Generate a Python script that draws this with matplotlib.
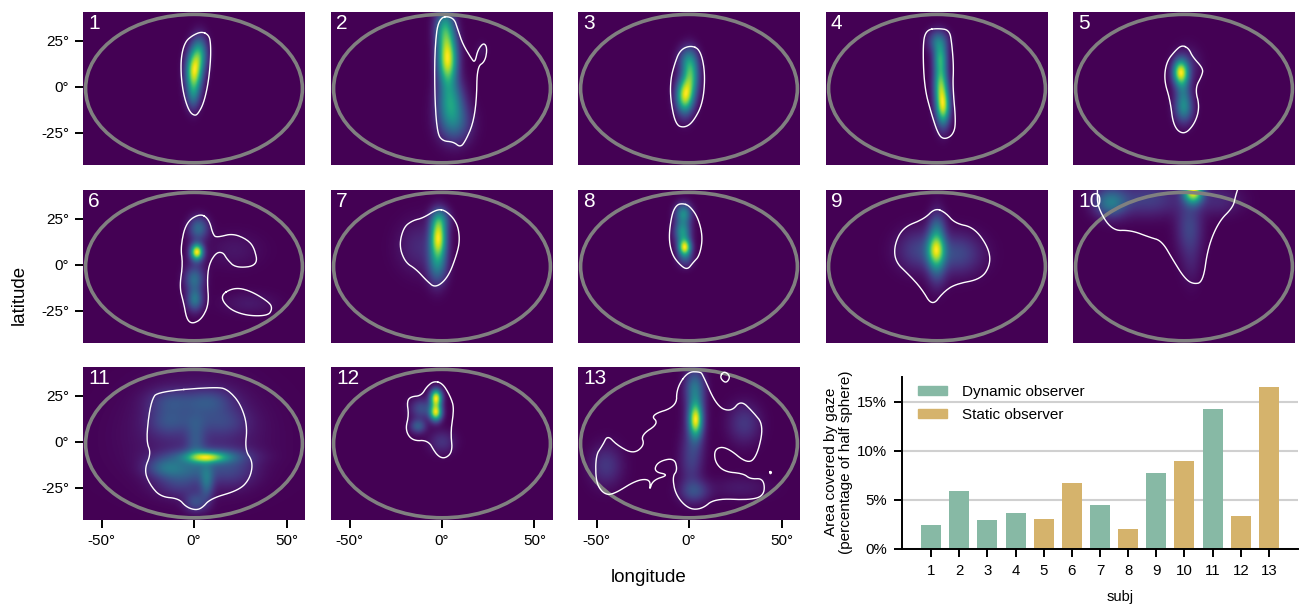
# Gaze density maps per subject plus area-covered bar chart
import numpy as np
import matplotlib
matplotlib.use('Agg')
import matplotlib.pyplot as plt
from matplotlib.patches import Ellipse, Patch

plt.rcParams['font.family'] = ['Liberation Sans', 'DejaVu Sans']

# ============================================================
# Data
# ============================================================

# density blobs per subject: (lon, lat, sigma lon, sigma lat, height)
blobs_1 = [(0, 8, 3, 7.5, 1), (3, 18, 3, 6.5, .55), (-.5, -5, 2.6, 5.5, .3)]
blobs_2 = [(3, 15, 3.6, 9.5, 1), (4.5, -8, 4.8, 8.5, .5), (7, -20, 6, 7.5, .3), (1.5, 32, 3.6, 7.5, .5),
           (21.6, 20, 2.2, 3.2, .05)]
blobs_3 = [(-2.3, -5, 3.2, 6.5, 1), (1, 6, 3, 7.5, .7), (-1, 15, 3.6, 5, .3)]
blobs_4 = [(3.3, -11, 2.6, 7, 1), (2, 2, 2.6, 7.5, .8), (1.8, 16, 2.6, 5.5, .6), (.5, 25, 3.6, 4.2, .4)]
blobs_5 = [(-1.8, 8, 2.9, 4.8, 1), (0, -12, 3.4, 5.4, .45), (-.5, -2, 3, 6.5, .3), (2, 12, 4.8, 6.5, .12)]
blobs_6 = [(1.6, 7, 2.3, 3, 1), (2.5, 20, 3.6, 4.3, .35), (0, -8, 3.6, 4.3, .3), (.5, -19, 3, 4.3, .4),
           (1, 0, 3.6, 10.5, .1), (22, 8, 10, 6.5, .06), (30, -21, 10, 4.3, .07)]
blobs_7 = [(-2, 15, 3, 7.5, 1), (-2.5, 0, 3.6, 7.5, .4), (-1, 25, 3.6, 4.3, .3), (-12, 10, 8, 9.5, .13)]
blobs_8 = [(-2.3, 9.5, 2.4, 3.2, 1), (-3.5, 18, 3, 4.3, .55), (-3, 28, 3, 3.8, .5), (-2, 3, 3, 3.2, .2)]
blobs_9 = [(-.5, 8, 3.4, 6.5, 1), (0, 14, 3, 10.5, .35), (-10, 8, 8, 7.5, .3), (11, 6, 9, 7.5, .35),
           (0, -5, 3.6, 6.5, .2), (0, 22, 3.6, 4.3, .15)]
blobs_10 = [(5, 40, 3.6, 4.3, 1), (-40, 34, 6, 5.4, .4), (-20, 36, 13, 6.5, .2), (3, 20, 4.8, 10.5, .22),
            (4, 0, 3.6, 8.5, .06), (18, 35, 9, 5.4, .12)]
blobs_11 = [(7, -8.5, 7, 2, 1), (7, -8, 14, 3, .5), (-15, -14, 7.5, 3.8, .5), (7, -22, 2.6, 6.5, .5),
            (1, -33, 4.2, 3.8, .4), (1, 0, 3.6, 8.5, .3), (-15, 11, 7, 5.4, .25), (18, 11, 8, 5.4, .2),
            (-14, 22, 8, 4.8, .25), (10, 22, 8, 4.8, .25), (0, 12, 10, 4.3, .15), (0, 22, 10, 4.3, .15),
            (-8, -22, 9, 5.4, .3), (20, -15, 9, 6.5, .3), (0, -15, 9, 4.3, .25), (0, -5, 40, 20, .03),
            (1, 8, 22, 18, .2)]
blobs_12 = [(-3.2, 24, 2.2, 3.2, 1), (-3.3, 16, 2.3, 3.2, .95), (-13, 8.5, 3, 2.7, .3),
            (-11, 18, 4.2, 3.8, .25), (0, 0, 4.8, 4.3, .15)]
blobs_13 = [(3.6, 12, 2.4, 6, 1), (3.5, 15, 3.6, 13, .4), (3, 30, 3.6, 6.5, .35), (1, -10, 4.2, 10.5, .22),
            (3, -27, 5.4, 4.3, .3), (30, 10, 6, 7.5, .22), (-45, -13, 6, 7.5, .22), (28, -25, 11, 4.3, .09)]

# white outlines per subject: lists of (lon, lat)
outline_1 = [(4.2, 30), (8.1, 28), (9, 23.5), (9, 14.5), (7.7, 1.8), (5.2, -9), (2.3, -14.5), (.4, -15.8),
             (-2.5, -13.6), (-5.4, -5.4), (-7, 5.4), (-7, 16.3), (-4.8, 24.5), (-.6, 28)]
outline_2 = [(-1.9, 38), (6.2, 38), (8.7, 30.8), (11, 23.6), (15.8, 15.4), (17.8, 13), (19.3, 20), (22.6, 24.1),
             (24.5, 20.8), (23.2, 13.6), (19, 10.9), (18.7, -7.2), (16.8, -20), (12.9, -29), (10, -33),
             (6.2, -29.9), (.4, -29.5), (-2.5, -25.4), (-3.9, -7.2), (-4, 20)]
outline_3 = [(1, 22.5), (6.2, 20), (8.8, 7.2), (7.5, -9), (2.3, -19), (-2.3, -22.3), (-7.2, -20.8), (-10, -7.2),
             (-10, 3.6), (-8, 11.8), (-4.9, 20)]
outline_4 = [(-5.7, 31), (.8, 31.7), (6.7, 30.8), (8, 23.6), (9, 10.9), (8.5, 0), (10.3, -20), (8.5, -26.3),
             (4.1, -28.6), (.8, -26.3), (-3.1, -14.5), (-6.9, 0), (-7.7, 23.6)]
outline_5 = [(-1, 22.6), (2.6, 20.8), (4.6, 16.3), (10.3, 10), (9.8, 6.3), (5.9, -1), (8.5, -10.9), (5.9, -20),
             (0, -26.3), (-5.7, -21.7), (-7.5, -7.2), (-10.8, 3.6), (-9.5, 13.6), (-4.4, 20)]
outline_6 = [(3.3, 27.9), (8.1, 24.8), (10.4, 15.8), (12.9, 14.9), (20.7, 17), (28.4, 14), (32.6, 9.4),
             (34.6, -.5), (22.6, -1.8), (17.8, 3), (15.8, 6.7), (12, 6.7), (8.1, .4), (7.1, -8.7), (8.1, -21.4),
             (4.2, -29.5), (-1, -32.2), (-4, -29.5), (-5.4, -21.4), (-7.9, -12.3), (-6, .4), (-7.3, 9.4),
             (-4.4, 23)]
outline_6b = [(13.9, -16.8), (21.6, -12.3), (30.3, -14), (40.9, -20.5), (42.3, -24), (40, -27.7), (28.4, -27.7),
              (18.7, -24)]
outline_7 = [(-2.5, 30.3), (2.3, 29.3), (8.1, 23), (9.7, 14), (8.1, 5.8), (3.3, -6.9), (-3.5, -12.7), (-8.3, -8.7),
             (-14, -2.4), (-19.9, 1.3), (-23.2, 10.3), (-20.8, 20.3), (-16, 24), (-10.2, 25.4)]
outline_8 = [(-3.3, 33.3), (.3, 32), (4.9, 25.7), (7.5, 14.9), (5.7, 4.9), (2.3, 1.3), (-1, -2.9), (-5.4, .4),
             (-9.3, 5.8), (-11, 14.9), (-9.3, 27.5), (-6.7, 32.6)]
outline_9 = [(-1, 30.8), (4.6, 28.4), (9.7, 22.5), (20, 20.3), (27.8, 9.4), (29, .4), (24, -7.8), (9.8, -10.5),
             (3.3, -15), (-2.6, -22.6), (-8.2, -13.2), (-14.6, -6), (-22.4, 1.3), (-23.2, 10.3), (-18.5, 20.3),
             (-7, 24.8)]
outline_10 = [(-46.8, 41), (-46.8, 31.2), (-39, 18.5), (-28.8, 18.8), (-18.5, 14.9), (-12, 13), (-5.7, 2.2),
              (0, -6.9), (4.6, -10.5), (10.3, -9.6), (12.9, 9.4), (18.8, 23.5), (26.5, 31.2), (27.8, 37.1),
              (29, 41)]
outline_11 = [(-19.9, 27.2), (12.9, 29.9), (18.7, 28), (25, 20.8), (28.9, 9), (27.5, -4.5), (31.9, -10.9),
              (30.3, -19.9), (24.5, -26.3), (9, -30.8), (4.2, -36.2), (.4, -37.1), (-4.4, -35.3), (-8.3, -30.8),
              (-18, -29.9), (-23.7, -23.6), (-27, -15.4), (-23.2, -6.3), (-25.7, 0), (-24.7, 12.7), (-22.8, 22.6)]
outline_12 = [(-4.4, 33), (.4, 31.7), (4.6, 24.5), (6.6, 18.1), (4.6, 5.4), (5.8, -5.4), (1.4, -9.4), (-3.1, -7.2),
              (-7.3, .9), (-16, .4), (-19.9, 6.3), (-17.9, 14.5), (-19, 21.7), (-17, 24.5), (-11.2, 25),
              (-8.3, 29.9)]
outline_13 = [(-.8, 38), (-6.7, 29), (-6.7, 19), (-21, 14.5), (-16.2, 10), (-26, 3.6), (-24, -1.8), (-30, -6.7),
              (-39, -1.8), (-44, 3.6), (-46.6, -1.8), (-50.4, -7.2), (-50.4, -21.7), (-46.6, -28), (-41.4, -29),
              (-28.5, -20.8), (-20.8, -20.3), (-21.4, -26.8), (-19.6, -20.8), (-10.6, -18), (-19, -16.3),
              (-17, -10.9), (-8, -8.7), (-6.2, -15.4), (-9, -19), (-7.2, -29), (-.3, -36.6), (7, -36.6),
              (13.9, -30.8), (33.2, -31.7), (40.9, -29), (40.4, -19.9), (33.2, -20.3), (29.3, -17.2), (19, -16.3),
              (13.9, -10.9), (13.9, -3.6), (20.3, -2.7), (31.9, -12.3), (37, -7.2), (40.4, 9), (34.5, 16.3),
              (28, 22.6), (22.9, 16.3), (15.2, 19), (7.5, 36.2), (6.2, 38)]
outline_13b = [(16.5, 35), (19, 38.5), (22.5, 35.5), (20, 31.5)]
outline_13c = [(43.5, -16.7), (44, -16), (44.7, -16.7), (44, -17.5)]

subject_blobs = [blobs_1, blobs_2, blobs_3, blobs_4, blobs_5, blobs_6, blobs_7, blobs_8, blobs_9,
                 blobs_10, blobs_11, blobs_12, blobs_13]
subject_outlines = [[outline_1], [outline_2], [outline_3], [outline_4], [outline_5], [outline_6, outline_6b],
                    [outline_7], [outline_8], [outline_9], [outline_10], [outline_11], [outline_12],
                    [outline_13, outline_13b, outline_13c]]

# bar chart
subjects = ['1', '2', '3', '4', '5', '6', '7', '8', '9', '10', '11', '12', '13']
area_pct = [2.45, 5.9, 3.0, 3.65, 3.1, 6.75, 4.45, 2.05, 7.7, 9.0, 14.2, 3.35, 16.5]
condition = ['D', 'D', 'D', 'D', 'S', 'S', 'D', 'S', 'D', 'S', 'D', 'S', 'S']

# ============================================================
# Layout and style
# ============================================================
W, H = 1306, 605
DYNAMIC_COLOR = '#87B9A5'
STATIC_COLOR = '#D5B36C'
panel_lefts = [83, 331, 578, 826, 1073]
panel_tops = [12, 190, 367]
PANEL_W, PANEL_H = 222, 153
XLIM = (-60, 60)
YLIM = (-42.5, 40.6)


def add_axes_px(fig, left, top, width, height):
    return fig.add_axes([left / W, 1 - (top + height) / H, width / W, height / H])


def smooth(points, closed=True, rounds=3):
    # corner cutting so the traced outlines look like contours
    pts = np.array(points, dtype=float)
    for _ in range(rounds):
        if closed:
            a, b = pts, np.roll(pts, -1, axis=0)
            pts = np.empty((len(a) * 2, 2))
            pts[0::2] = 0.75 * a + 0.25 * b
            pts[1::2] = 0.25 * a + 0.75 * b
        else:
            a, b = pts[:-1], pts[1:]
            mid = np.empty((len(a) * 2, 2))
            mid[0::2] = 0.75 * a + 0.25 * b
            mid[1::2] = 0.25 * a + 0.75 * b
            pts = np.vstack([pts[:1], mid, pts[-1:]])
    if closed:
        pts = np.vstack([pts, pts[:1]])
    return pts


def density(blobs):
    lon = np.linspace(XLIM[0], XLIM[1], 300)
    lat = np.linspace(YLIM[0], YLIM[1], 210)
    xx, yy = np.meshgrid(lon, lat)
    z = np.zeros_like(xx)
    for x0, y0, sx, sy, amp in blobs:
        z += amp * np.exp(-0.5 * (((xx - x0) / sx) ** 2 + ((yy - y0) / sy) ** 2))
    return z / z.max()


fig = plt.figure(figsize=(W / 100, H / 100), dpi=100)

# ============================================================
# Density panels
# ============================================================
for i, (blobs, outlines) in enumerate(zip(subject_blobs, subject_outlines)):
    row, col = i // 5, i % 5
    ax = add_axes_px(fig, panel_lefts[col], panel_tops[row], PANEL_W, PANEL_H)
    ax.imshow(density(blobs), origin='lower', cmap='viridis', aspect='auto',
              extent=[XLIM[0], XLIM[1], YLIM[0], YLIM[1]], vmin=0, vmax=1)
    for outline in outlines:
        pts = smooth(outline, closed=(i != 9))
        ax.plot(pts[:, 0], pts[:, 1], color='white', lw=1.0)
    ax.add_patch(Ellipse((0, -1), 117.2, 80.6, fill=False, ec='#808080', lw=2.6))
    ax.set_xlim(XLIM)
    ax.set_ylim(YLIM)
    for spine in ax.spines.values():
        spine.set_visible(False)
    ax.text(0.022, 0.925, subjects[i], transform=ax.transAxes, color='white', fontsize=15,
            ha='left', va='center')
    ax.tick_params(length=6, width=1.4, labelsize=11, pad=4)
    if col == 0:
        ax.set_yticks([-25, 0, 25], ['-25°', '0°', '25°'])
    else:
        ax.set_yticks([])
    if i >= 10:
        ax.set_xticks([-50, 0, 50], ['-50°', '0°', '50°'])
    else:
        ax.set_xticks([])

fig.text(649 / W, 1 - 577 / H, 'longitude', fontsize=13.5, ha='center', va='center')
fig.text(19 / W, 1 - 295 / H, 'latitude', fontsize=13.5, rotation=90, ha='center', va='center')

# ============================================================
# Bar chart
# ============================================================
bar_ax = add_axes_px(fig, 902, 377, 396, 172)
positions = np.arange(len(subjects))
bar_colors = [DYNAMIC_COLOR if c == 'D' else STATIC_COLOR for c in condition]
bar_ax.set_axisbelow(True)
bar_ax.grid(axis='y', color='#d0d0d0', lw=1.5)
bar_ax.bar(positions, area_pct, width=0.71, color=bar_colors)
bar_ax.set_xlim(-1.03, 13.03)
bar_ax.set_ylim(0, 17.5)
bar_ax.set_xticks(positions, subjects)
bar_ax.set_yticks([0, 5, 10, 15], ['0%', '5%', '10%', '15%'])
bar_ax.tick_params(length=6, width=1.4, labelsize=10.8, pad=5)
bar_ax.spines['top'].set_visible(False)
bar_ax.spines['right'].set_visible(False)
bar_ax.spines['left'].set_linewidth(1.4)
bar_ax.spines['bottom'].set_linewidth(1.4)
fig.text(1120 / W, 1 - 597 / H, 'subj', fontsize=10.5, ha='center', va='center')
fig.text(838.5 / W, 1 - 462 / H, 'Area covered by gaze\n(percentage of half sphere)', fontsize=11,
         rotation=90, ha='center', va='center', linespacing=1.05)
handles = [Patch(color=DYNAMIC_COLOR, label='Dynamic observer'),
           Patch(color=STATIC_COLOR, label='Static observer')]
bar_ax.legend(handles=handles, frameon=False, fontsize=11, loc='upper left',
              bbox_to_anchor=(0.025, 0.99), borderaxespad=0, handlelength=1.9, handleheight=0.6,
              handletextpad=0.95, labelspacing=0.6)

fig.savefig('out.png', dpi=100)
plt.close(fig)
